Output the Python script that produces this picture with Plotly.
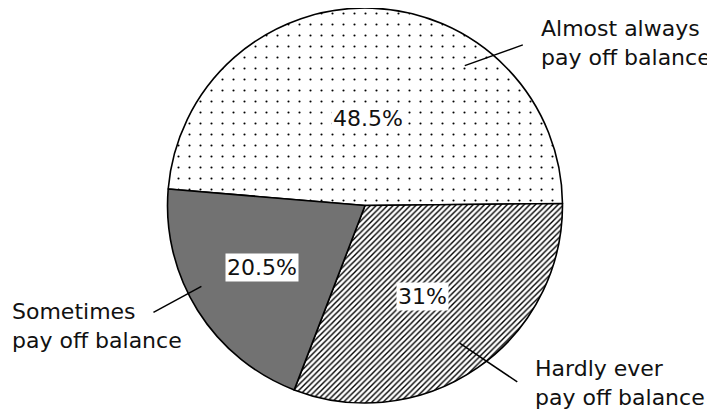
import math
import plotly.graph_objects as go

# ---- data ----
categories = ["Almost always\npay off balance", "Hardly ever\npay off balance", "Sometimes\npay off balance"]
values = [48.5, 31, 20.5]
pct_labels = [f"{v:g}%" for v in values]

# ---- layout / style ----
# the page body has an 8px default margin, so the figure is drawn 8px in from the window corner
W, H = 707, 411
CX, CY, R = 357, 197.5, 197.5      # pie centre and radius in figure pixels
ROTATION = -85.2                    # first slice starts a little above 9 o'clock
FONT = "DejaVu Sans"
FS = 22

# polar placements (angle in degrees, radius as fraction of R)
pct_pos = [(88, 0.44), (-57.5, 0.545), (-149, 0.61)]
leader = [((54.5, 0.87), (45.5, 1.14)),
          ((-55.5, 0.846), (-49.2, 1.18)),
          ((-153.7, 0.924), (-153.2, 1.20))]
text_pos = [(43.1, 1.204), (-46.6, 1.236), (-161.2, 1.899)]


def to_paper(angle_deg, rfrac):
    a = math.radians(angle_deg)
    px = CX + rfrac * R * math.cos(a)
    py = CY - rfrac * R * math.sin(a)
    return px / W, 1 - py / H


fig = go.Figure(go.Pie(
    labels=categories,
    values=values,
    sort=False,
    direction="clockwise",
    rotation=ROTATION,
    textinfo="none",
    hoverinfo="label+percent",
    marker=dict(
        colors=["#ffffff", "#ffffff", "#727272"],
        line=dict(color="#000000", width=1.6),
        pattern=dict(
            shape=[".", "/", ""],
            size=[11, 4, 8],
            solidity=[0.03, 0.35, 0.5],
            fgcolor=["#000000", "#000000", "#000000"],
            bgcolor=["#ffffff", "#ffffff", "#727272"],
            fillmode="replace",
        ),
    ),
    domain=dict(x=[max(0, (CX - R) / W), min(1, (CX + R) / W)],
                y=[max(0, 1 - (CY + R) / H), min(1, 1 - (CY - R) / H)]),
    showlegend=False,
))

annotations = []
shapes = []
for i, cat in enumerate(categories):
    x, y = to_paper(*pct_pos[i])
    annotations.append(dict(
        x=x, y=y, xref="paper", yref="paper", text=pct_labels[i], showarrow=False,
        font=dict(family=FONT, size=FS, color="#111111"), bgcolor="#ffffff", borderpad=1,
        xanchor="center", yanchor="middle",
    ))
    (a0, r0), (a1, r1) = leader[i]
    x0, y0 = to_paper(a0, r0)
    x1, y1 = to_paper(a1, r1)
    shapes.append(dict(type="line", xref="paper", yref="paper", x0=x0, y0=y0, x1=x1, y1=y1,
                       line=dict(color="#000000", width=1.5)))
    tx, ty = to_paper(*text_pos[i])
    annotations.append(dict(
        x=tx, y=ty, xref="paper", yref="paper", text=cat.replace("\n", "<br>"), showarrow=False,
        font=dict(family=FONT, size=FS, color="#111111"), align="left",
        xanchor="left", yanchor="middle",
    ))

fig.update_layout(
    width=W, height=H,
    margin=dict(l=0, r=0, t=0, b=0),
    paper_bgcolor="#ffffff", plot_bgcolor="#ffffff",
    annotations=annotations, shapes=shapes,
)

fig.write_html("out.html")
